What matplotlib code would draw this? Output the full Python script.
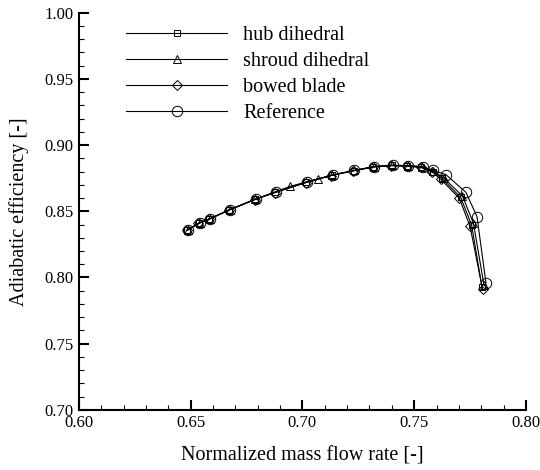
import numpy as np
import matplotlib
matplotlib.use("Agg")
import matplotlib.pyplot as plt
from matplotlib.ticker import MultipleLocator

plt.rcParams['font.family'] = ['Liberation Serif', 'DejaVu Serif']
plt.rcParams['mathtext.fontset'] = 'stix'

# 数据
ref_x = [0.6490, 0.6541, 0.6586, 0.6676, 0.6792, 0.6881, 0.7020, 0.7135, 0.7233,
         0.7322, 0.7405, 0.7474, 0.7538, 0.7585, 0.7642, 0.7731, 0.7781, 0.7821]
ref_y = [0.8362, 0.8413, 0.8443, 0.8513, 0.8592, 0.8645, 0.8721, 0.8774, 0.8809,
         0.8838, 0.8848, 0.8845, 0.8838, 0.8808, 0.8777, 0.8644, 0.8460, 0.7960]

hub_x = [0.6485, 0.6537, 0.6582, 0.6672, 0.6788, 0.6878, 0.7016, 0.7131, 0.7229,
         0.7318, 0.7400, 0.7468, 0.7532, 0.7583, 0.7625, 0.7708, 0.7757, 0.7803]
hub_y = [0.8358, 0.8410, 0.8440, 0.8510, 0.8590, 0.8643, 0.8718, 0.8772, 0.8807,
         0.8836, 0.8846, 0.8842, 0.8833, 0.8800, 0.8748, 0.8604, 0.8395, 0.7930]

shroud_x = [0.6488, 0.6540, 0.6585, 0.6675, 0.6790, 0.6945, 0.7068, 0.7134, 0.7232,
            0.7321, 0.7403, 0.7471, 0.7535, 0.7586, 0.7632, 0.7716, 0.7765, 0.7812]
shroud_y = [0.8360, 0.8412, 0.8442, 0.8512, 0.8591, 0.8688, 0.8744, 0.8773, 0.8808,
            0.8837, 0.8847, 0.8843, 0.8835, 0.8803, 0.8752, 0.8615, 0.8410, 0.7945]

bowed_x = [0.6483, 0.6535, 0.6580, 0.6670, 0.6786, 0.6876, 0.7014, 0.7129, 0.7227,
           0.7316, 0.7398, 0.7466, 0.7530, 0.7580, 0.7620, 0.7702, 0.7750, 0.7806]
bowed_y = [0.8355, 0.8408, 0.8438, 0.8508, 0.8588, 0.8641, 0.8716, 0.8770, 0.8805,
           0.8834, 0.8844, 0.8840, 0.8831, 0.8797, 0.8740, 0.8598, 0.8385, 0.7910]

labels = ["hub dihedral", "shroud dihedral", "bowed blade", "Reference"]

fig = plt.figure(figsize=(5.4, 4.7), dpi=100)
ax = fig.add_axes([0.146, 0.128, 0.828, 0.845])

lw = 0.8
ax.plot(hub_x, hub_y, color='k', lw=lw, marker='s', ms=5, mfc='none', mec='k', mew=0.7, label=labels[0])
ax.plot(shroud_x, shroud_y, color='k', lw=lw, marker='^', ms=6, mfc='none', mec='k', mew=0.7, label=labels[1])
ax.plot(bowed_x, bowed_y, color='k', lw=lw, marker='D', ms=5, mfc='none', mec='k', mew=0.7, label=labels[2])
ax.plot(ref_x, ref_y, color='k', lw=lw, marker='o', ms=7.5, mfc='none', mec='k', mew=0.7, label=labels[3])

ax.set_xlim(0.60, 0.80)
ax.set_ylim(0.70, 1.00)
ax.xaxis.set_major_locator(MultipleLocator(0.05))
ax.xaxis.set_minor_locator(MultipleLocator(0.01))
ax.yaxis.set_major_locator(MultipleLocator(0.05))
ax.yaxis.set_minor_locator(MultipleLocator(0.01))
ax.xaxis.set_major_formatter(plt.FormatStrFormatter('%.2f'))
ax.yaxis.set_major_formatter(plt.FormatStrFormatter('%.2f'))

for s in ['top', 'right']:
    ax.spines[s].set_visible(False)
for s in ['left', 'bottom']:
    ax.spines[s].set_linewidth(1.5)

ax.tick_params(which='major', direction='in', length=7, width=1.5, labelsize=12, pad=4)
ax.tick_params(which='minor', direction='in', length=3.5, width=0.8)

ax.set_xlabel("Normalized mass flow rate [-]", fontsize=14.5, labelpad=11)
ax.set_ylabel("Adiabatic efficiency [-]", fontsize=14.5, labelpad=11)

ax.legend(loc='upper left', bbox_to_anchor=(0.066, 1.013), frameon=False, fontsize=14.5,
          handlelength=5.0, handletextpad=0.8, labelspacing=0.345, borderpad=0.4)

fig.savefig("out.png", dpi=100)
